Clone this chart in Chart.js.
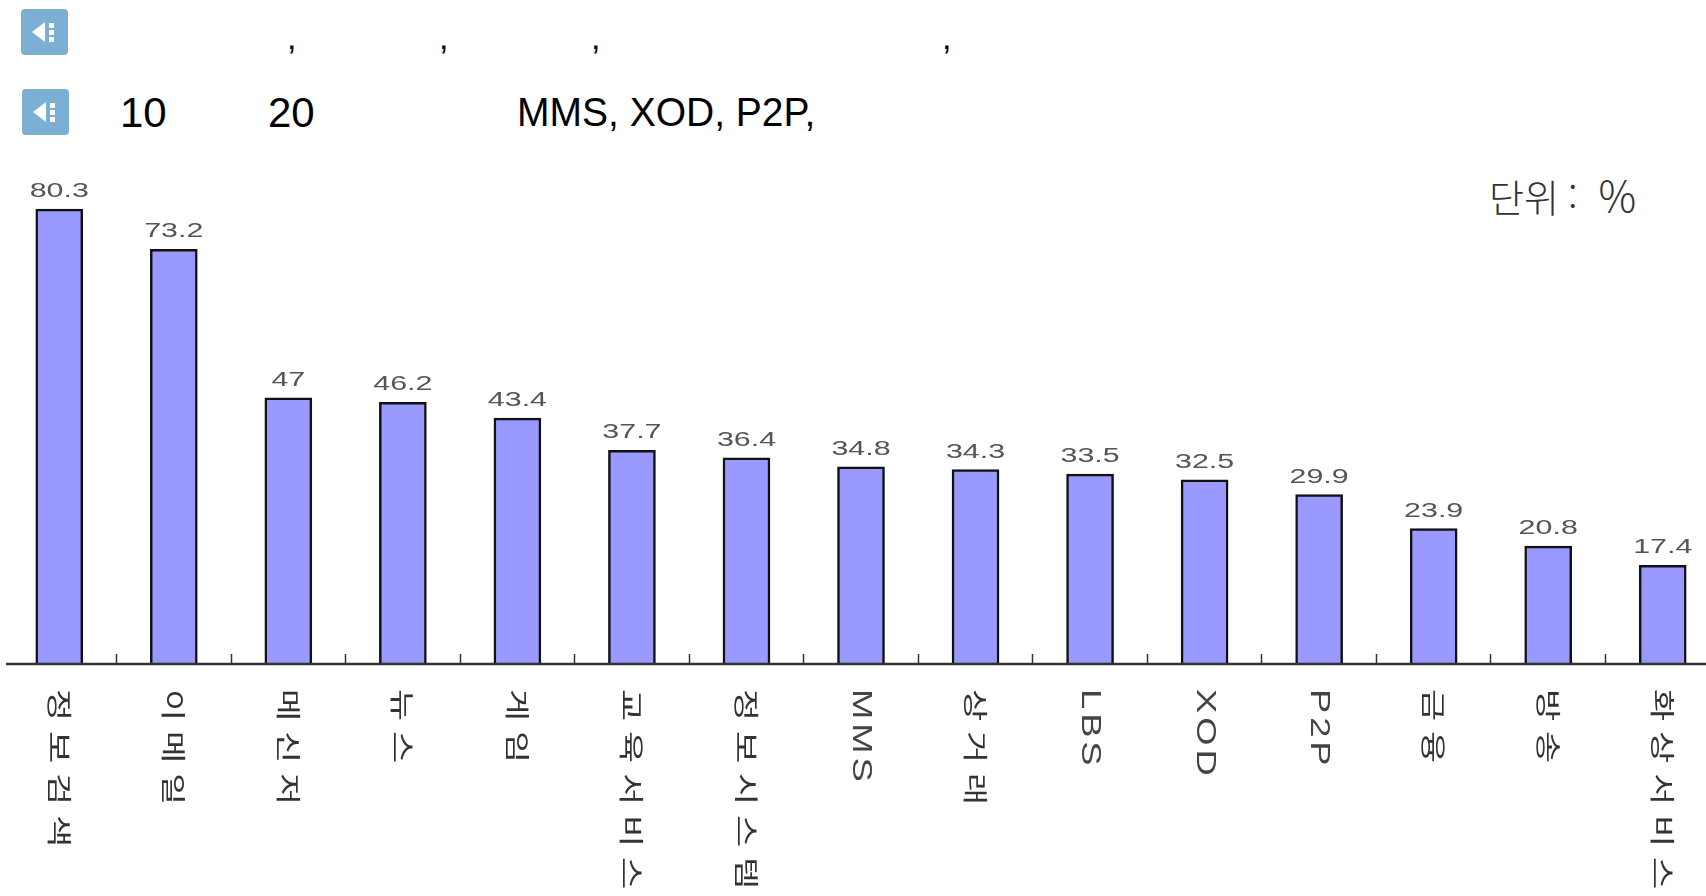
<!DOCTYPE html>
<html lang="ko"><head><meta charset="utf-8">
<style>
html,body{margin:0;padding:0;background:#fff;width:1706px;height:896px;overflow:hidden;position:relative}
canvas{position:absolute;left:0;top:0}
.t{position:absolute;font-family:"Liberation Sans",Arial,sans-serif;color:#000;white-space:pre;line-height:1}
svg{position:absolute}
</style></head><body>
<svg style="left:21px;top:9px" width="47" height="46" viewBox="0 0 47 46"><rect width="47" height="46" rx="4" fill="#7bafd4"/><path d="M11 23 L24 13 V33Z" fill="#fff"/><rect x="28" y="14" width="5" height="5" fill="#fff"/><rect x="28" y="21" width="5" height="5" fill="#fff"/><rect x="28" y="28" width="5" height="5" fill="#fff"/></svg>
<svg style="left:22px;top:89px" width="47" height="46" viewBox="0 0 47 46"><rect width="47" height="46" rx="4" fill="#7bafd4"/><path d="M11 23 L24 13 V33Z" fill="#fff"/><rect x="28" y="14" width="5" height="5" fill="#fff"/><rect x="28" y="21" width="5" height="5" fill="#fff"/><rect x="28" y="28" width="5" height="5" fill="#fff"/></svg>
<div class="t" style="left:287px;top:20px;font-size:34px">,</div>
<div class="t" style="left:439px;top:20px;font-size:34px">,</div>
<div class="t" style="left:591px;top:20px;font-size:34px">,</div>
<div class="t" style="left:942px;top:20px;font-size:34px">,</div>
<div class="t" style="left:120px;top:92px;font-size:42px">10</div>
<div class="t" style="left:268px;top:92px;font-size:42px">20</div>
<div class="t" style="left:517px;top:93px;font-size:39px;transform:scaleY(1.06);transform-origin:0 100%">MMS, XOD, P2P,</div>
<div class="t" style="left:1489px;top:173px;font-size:38px;color:#333;font-family:'Noto Sans CJK KR',sans-serif;font-weight:300">단위<span style="margin-left:9px">:</span><span style="margin-left:21px;font-size:42px">%</span></div>
<canvas id="c" width="1722" height="896" style="width:1722px;height:896px"></canvas>
<script src="https://cdn.jsdelivr.net/npm/chart.js@4"></script>
<script>
const categories = ["정보검색","이메일","메신저","뉴스","게임","교육서비스","정보시스템","MMS","상거래","LBS","XOD","P2P","금융","방송","화상서비스"];
const values = [80.3,73.2,47,46.2,43.4,37.7,36.4,34.8,34.3,33.5,32.5,29.9,23.9,20.8,17.4];

const annotate = {
  id:'annotate',
  afterDatasetsDraw(chart){
    const ctx = chart.ctx, x = chart.scales.x, y = chart.scales.y;
    // axis line
    ctx.save();
    ctx.strokeStyle='#333'; ctx.lineWidth=2.5;
    ctx.beginPath(); ctx.moveTo(6,y.getPixelForValue(0)); ctx.lineTo(x.right,y.getPixelForValue(0)); ctx.stroke();
    ctx.restore();
    // value labels
    chart.getDatasetMeta(0).data.forEach((bar,i)=>{
      ctx.save();
      ctx.translate(bar.x, bar.y-12);
      ctx.scale(1.52,1);
      ctx.font='20px "Liberation Sans"';
      ctx.fillStyle='#555';
      ctx.textAlign='center'; ctx.textBaseline='alphabetic';
      ctx.fillText(String(values[i]),0,0);
      ctx.restore();
    });
    // category labels, rotated clockwise
    categories.forEach((lab,i)=>{
      const latin=/^[A-Z0-9]+$/.test(lab);
      ctx.save();
      ctx.translate(x.getPixelForTick(i), 689);
      ctx.rotate(Math.PI/2);
      ctx.scale(latin?1.3:1.4,1);
      ctx.textAlign='left'; ctx.textBaseline='middle';
      if(latin){ctx.font='28px "Liberation Sans"';ctx.letterSpacing='3px';ctx.fillStyle='#444';}
      else{ctx.font='400 25px "Noto Sans CJK KR"';ctx.letterSpacing='7px';ctx.fillStyle='#333';}
      ctx.fillText(lab,0,0);
      ctx.restore();
    });
  }
};

new Chart(document.getElementById('c'),{
  type:'bar',
  data:{labels:categories,datasets:[{data:values,backgroundColor:'#9999ff',borderColor:'#111',borderWidth:2.5,barThickness:47}]},
  options:{
    responsive:false,animation:false,
    layout:{padding:{left:2,right:2,top:0,bottom:0}},
    plugins:{legend:{display:false},tooltip:{enabled:false},title:{display:false}},
    scales:{
      x:{
        offset:true,
        border:{display:false},
        grid:{display:true,drawOnChartArea:false,drawTicks:true,tickLength:-10,tickWidth:1.5,offset:true,
          tickColor:c=>c.index===0?'rgba(0,0,0,0)':'#333'},
        ticks:{display:false},
        afterFit(s){s.height=232;}
      },
      y:{display:false,min:0,max:117.2}
    }
  },
  plugins:[annotate]
});
</script>
</body></html>
